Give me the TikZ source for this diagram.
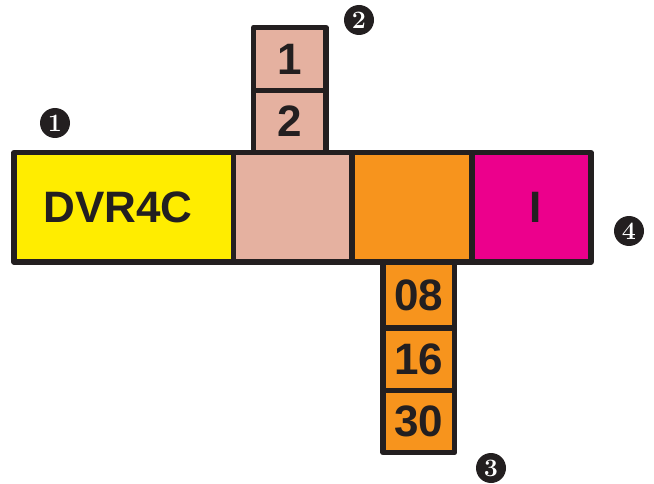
\documentclass[tikz,border=0pt]{standalone}
\usepackage{fontspec}
\setsansfont{Liberation Sans}
\definecolor{dark}{HTML}{231F20}
\definecolor{cyel}{HTML}{FFED00}
\definecolor{cpink}{HTML}{E5B1A0}
\definecolor{corange}{HTML}{F7941D}
\definecolor{cmag}{HTML}{EC008C}
\begin{document}
\begin{tikzpicture}[x=1pt,y=-1pt,
  cell/.style={rectangle,draw=dark,line width=5.5pt,line join=round,inner sep=0pt,outer sep=0pt,
    text=dark,font=\sffamily\bfseries\fontsize{44}{44}\selectfont},
  marker/.style={circle,fill=dark,text=white,minimum size=30pt,inner sep=0pt,
    font=\bfseries\fontsize{25}{25}\selectfont}]
\useasboundingbox (0,0) rectangle (654,484);
% main bar
\node[cell,fill=cyel,minimum width=219.3pt,minimum height=109.5pt] (yel) at (123.85,207.25) {\hspace{-12pt}DVR4C};
\node[cell,fill=cpink,minimum width=118.5pt,minimum height=109.5pt] (pnk) at (292.75,207.25) {};
\node[cell,fill=corange,minimum width=119.8pt,minimum height=109.5pt] (org) at (411.9,207.25) {};
\node[cell,fill=cmag,minimum width=119pt,minimum height=109.5pt] (mag) at (531.3,207.25) {\hspace{8pt}I};
% upper column
\node[cell,fill=cpink,minimum width=72.1pt,minimum height=62.8pt] (u1) at (289.75,58.9) {1};
\node[cell,fill=cpink,minimum width=72.1pt,minimum height=62.2pt] (u2) at (289.75,121.4) {2};
% lower column
\node[cell,fill=corange,minimum width=71.5pt,minimum height=66pt] (l1) at (418.75,295) {08};
\node[cell,fill=corange,minimum width=71.5pt,minimum height=62.5pt] (l2) at (418.75,359.25) {16};
\node[cell,fill=corange,minimum width=71.5pt,minimum height=62pt] (l3) at (418.75,421.5) {30};
% markers
\node[marker] (m1) at (55,123) {1};
\node[marker] (m2) at (359,20) {2};
\node[marker] (m3) at (491,468) {3};
\node[marker] (m4) at (629,231) {4};
\end{tikzpicture}
\end{document}
